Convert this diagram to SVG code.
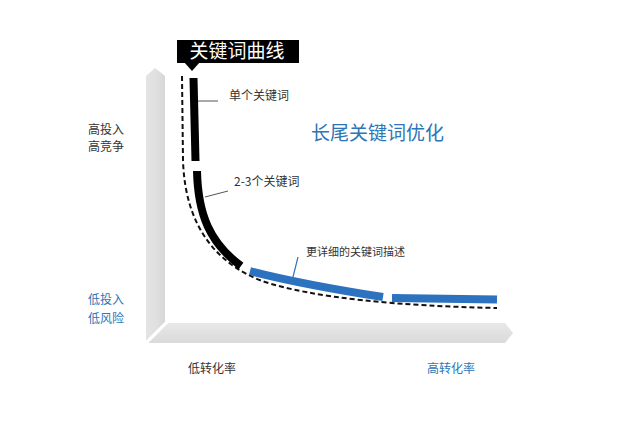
<svg xmlns="http://www.w3.org/2000/svg" width="620" height="427" viewBox="0 0 620 427">
<style>
text { font-family: "Noto Sans CJK SC", "Noto Sans", sans-serif; }
.dark { fill: #333333; font-size: 12px; }
.blue { fill: #2e75b6; font-size: 12px; }
.lead { stroke: #555555; stroke-width: 1; fill: none; }
.seg { fill: none; stroke-width: 8; stroke-linecap: butt; }
</style>
<defs>
<linearGradient id="vbar" x1="0" y1="0" x2="1" y2="0">
<stop offset="0" stop-color="#e4e4e4"/>
<stop offset="0.55" stop-color="#e0e0e0"/>
<stop offset="1" stop-color="#d6d6d6"/>
</linearGradient>
<linearGradient id="hbar" x1="0" y1="0" x2="0" y2="1">
<stop offset="0" stop-color="#e8e8e8"/>
<stop offset="1" stop-color="#dadada"/>
</linearGradient>
</defs>
<rect width="620" height="427" fill="#ffffff"/>
<g id="axes">
<polygon points="146,76 155,68 165,76 165,322 146,341" fill="url(#vbar)"/>
<polygon points="168,323 505,323 513,333 505,343 148,343" fill="url(#hbar)"/>
<line x1="168" y1="321" x2="146" y2="343" stroke="#ffffff" stroke-width="3"/>
</g>
<g id="connectors">
<path d="M182,76 L183,160 C185,228 218,264 262,281 C312,298 400,306 497,308" fill="none" stroke="#111111" stroke-width="2" stroke-dasharray="5,3"/>
<line class="lead" x1="197" y1="101" x2="218" y2="101"/>
<line class="lead" x1="205" y1="197" x2="228" y2="191"/>
<line x1="292" y1="281" x2="298" y2="257" stroke="#2d72bf" stroke-width="1.2"/>
</g>
<g id="curve-segments">
<path class="seg" d="M193.5,78 L195.5,161" stroke="#000000"/>
<path class="seg" d="M197,171 C198,215 210,243 241,266" stroke="#000000"/>
<path class="seg" d="M250,271 Q300,284 383,297" stroke="#2d72bf"/>
<path class="seg" d="M392,298 L497,299.5" stroke="#2d72bf"/>
</g>
<g id="title">
<rect x="177" y="40" width="122" height="23" fill="#000000"/>
<polygon points="184,62 200,62 192,71" fill="#000000"/>
<text x="237" y="58" text-anchor="middle" fill="#ffffff" font-size="19">关键词曲线</text>
</g>
<g id="label-single">
<text class="dark" x="229" y="100">单个关键词</text>
</g>
<g id="label-23">
<text class="dark" x="234" y="186">2-3个关键词</text>
</g>
<g id="label-detail">
<text class="dark" x="306" y="256" style="font-size:11px">更详细的关键词描述</text>
</g>
<g id="label-longtail">
<text x="311" y="140" fill="#2e75b6" font-size="19">长尾关键词优化</text>
</g>
<g id="label-high">
<text class="dark" x="88" y="134">高投入</text>
<text class="dark" x="88" y="151">高竞争</text>
</g>
<g id="label-low">
<text class="blue" x="88" y="304">低投入</text>
<text class="blue" x="88" y="323">低风险</text>
</g>
<g id="label-lowconv">
<text class="dark" x="188" y="373">低转化率</text>
</g>
<g id="label-highconv">
<text class="blue" x="427" y="373">高转化率</text>
</g>
</svg>
